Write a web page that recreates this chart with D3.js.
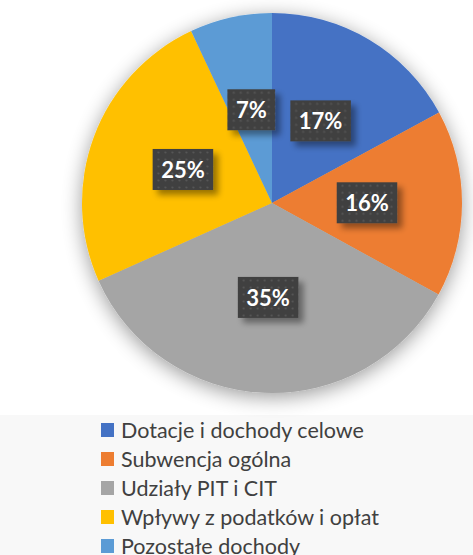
<!DOCTYPE html>
<html>
  <head>
    <meta charset="utf-8">
    <style>
    body {
      margin: 0;
      background: #fff;
    }
    svg {
      display: block;
    }
    .lbl {
      font-family: Lato, "Open Sans", sans-serif;
      font-weight: bold;
      font-size: 22px;
      fill: #fff;
    }
    .legend text {
      font-family: Lato, "Open Sans", sans-serif;
      font-size: 21.5px;
      fill: #404040;
    }
    </style>
    <script src="https://cdn.jsdelivr.net/npm/d3@7"></script>
  </head>
  <body>
    <script>
    var categories = [
      "Dotacje i dochody celowe",
      "Subwencja ogólna",
      "Udziały PIT i CIT",
      "Wpływy z podatków i opłat",
      "Pozostałe dochody"
    ];
    var shares = [17.1, 15.9, 35.3, 24.7, 7.0];
    var colors = ["#4472C4", "#ED7D31", "#A5A5A5", "#FFC000", "#5B9BD5"];

    var width = 473, height = 555;
    var cx = 272, cy = 203, radius = 190;

    var svg = d3.select("body").append("svg")
        .attr("width", width)
        .attr("height", height);

    var defs = svg.append("defs");

    // soft shadow round the pie
    var glow = defs.append("filter").attr("id", "pieshadow")
        .attr("x", "-30%").attr("y", "-30%").attr("width", "160%").attr("height", "160%");
    glow.append("feGaussianBlur").attr("in", "SourceAlpha").attr("stdDeviation", 10);
    glow.append("feOffset").attr("dy", 4).attr("result", "b");
    glow.append("feComponentTransfer").append("feFuncA").attr("type", "linear").attr("slope", 0.4);
    var m = glow.append("feMerge");
    m.append("feMergeNode");
    m.append("feMergeNode").attr("in", "SourceGraphic");

    // shadow for the label boxes
    var sh = defs.append("filter").attr("id", "boxshadow")
        .attr("x", "-30%").attr("y", "-30%").attr("width", "170%").attr("height", "170%");
    sh.append("feGaussianBlur").attr("in", "SourceAlpha").attr("stdDeviation", 3);
    sh.append("feOffset").attr("dx", 5).attr("dy", 5);
    sh.append("feComponentTransfer").append("feFuncA").attr("type", "linear").attr("slope", 0.4);
    var m2 = sh.append("feMerge");
    m2.append("feMergeNode");
    m2.append("feMergeNode").attr("in", "SourceGraphic");

    // dotted fill of the label boxes
    var pat = defs.append("pattern").attr("id", "dots")
        .attr("patternUnits", "userSpaceOnUse")
        .attr("width", 7).attr("height", 7);
    pat.append("rect").attr("width", 7).attr("height", 7).attr("fill", "#404040");
    pat.append("circle").attr("cx", 3.5).attr("cy", 3.5).attr("r", 1.1).attr("fill", "#575757");

    // legend background
    svg.append("rect")
        .attr("x", 0).attr("y", 415)
        .attr("width", width).attr("height", height - 415)
        .attr("fill", "#f8f8f8");

    var pie = d3.pie().sort(null).value(function (d) { return d; });
    var arcs = pie(shares);
    var total = d3.sum(shares);

    var arc = d3.arc().innerRadius(0).outerRadius(radius);
    var labelArc = d3.arc().innerRadius(radius * 0.5).outerRadius(radius * 0.5);

    var g = svg.append("g").attr("transform", "translate(" + cx + "," + cy + ")");

    g.append("g").attr("filter", "url(#pieshadow)")
      .selectAll("path")
      .data(arcs)
      .enter().append("path")
        .attr("d", arc)
        .attr("fill", function (d, i) { return colors[i]; });

    var labels = g.selectAll(".label")
      .data(arcs)
      .enter().append("g")
        .attr("class", "label")
        .attr("transform", function (d) { return "translate(" + labelArc.centroid(d) + ")"; });

    labels.each(function (d) {
      var el = d3.select(this);
      var box = el.append("rect").attr("filter", "url(#boxshadow)").attr("fill", "url(#dots)");
      var t = el.append("text")
          .attr("class", "lbl")
          .attr("text-anchor", "middle")
          .attr("dy", "0.36em")
          .text(Math.round(d.value / total * 100) + "%");
      var w = t.node().getBBox().width + 17;
      box.attr("x", -w / 2).attr("y", -21).attr("width", w).attr("height", 41);
    });

    // legend
    var legend = svg.append("g").attr("class", "legend")
        .attr("transform", "translate(101,430)");

    var rows = legend.selectAll("g")
      .data(categories)
      .enter().append("g")
        .attr("transform", function (d, i) { return "translate(0," + (i * 29) + ")"; });

    rows.append("rect")
        .attr("x", 0).attr("y", -7)
        .attr("width", 13).attr("height", 14)
        .attr("fill", function (d, i) { return colors[i]; });

    rows.append("text")
        .attr("x", 20)
        .attr("dy", "0.36em")
        .text(function (d) { return d; });
    </script>
  </body>
</html>
